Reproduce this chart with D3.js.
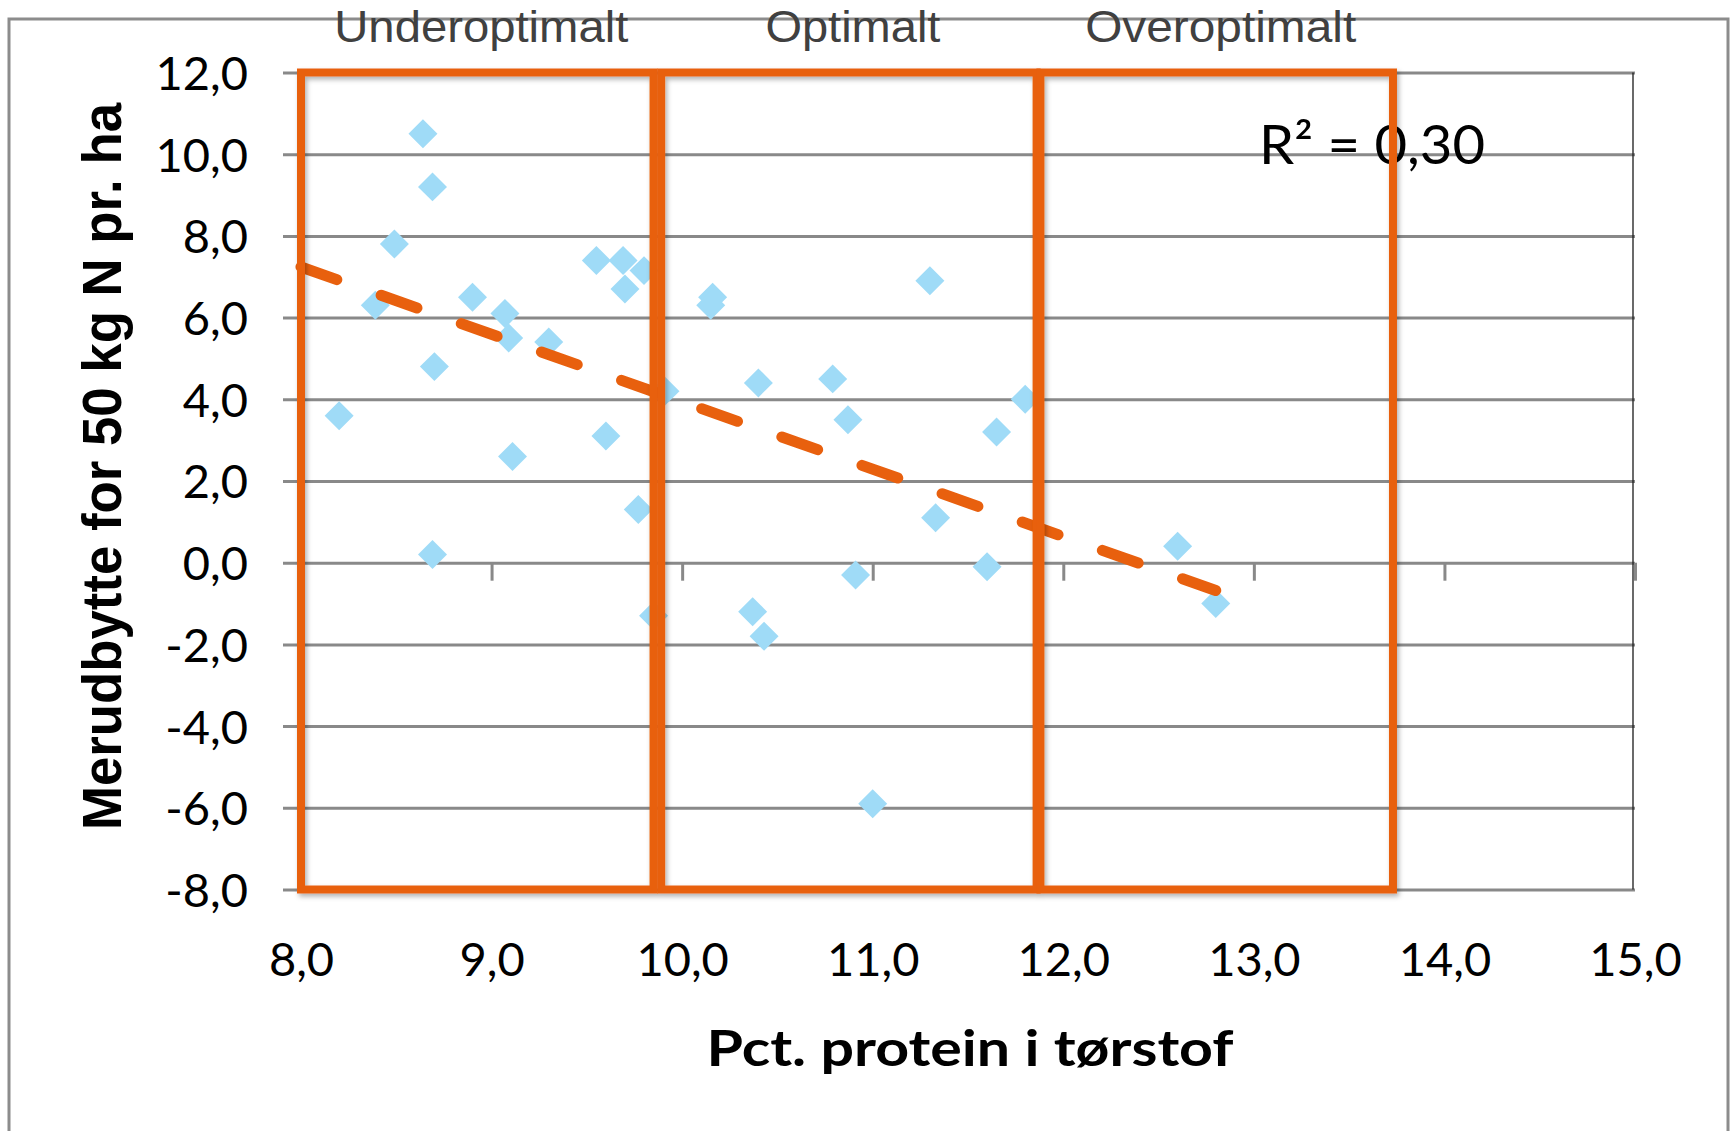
<!DOCTYPE html>
<html>
<head>
<meta charset="utf-8">
<script src="https://cdn.jsdelivr.net/npm/d3@7"></script>
<style>
  html, body { margin: 0; padding: 0; background: #ffffff; }
  svg { display: block; }
</style>
</head>
<body>
<svg id="chart" width="1730" height="1131"></svg>
<script>
// ---------- data ----------
const proteinPct = [8.64, 8.69, 8.49, 8.39, 8.90, 9.07, 9.09, 9.30, 8.70, 8.20, 9.60, 9.11,
                    9.55, 9.69, 9.70, 9.80, 8.69, 9.77, 9.85, 11.33, 10.91, 11.60, 10.37, 10.43,
                    11.00, 10.16, 10.15, 11.30, 9.91, 10.40, 10.79, 10.87, 11.80, 11.65, 12.60, 12.80];
const merudbytte = [10.5, 9.2, 7.8, 6.3, 6.5, 6.1, 5.5, 5.4, 4.8, 3.6, 3.1, 2.6,
                    7.4, 7.4, 6.7, 7.15, 0.2, 1.3, -1.3, 1.1, -0.3, -0.1, -1.2, -1.8,
                    -5.9, 6.5, 6.3, 6.9, 4.2, 4.4, 4.5, 3.5, 4.0, 3.2, 0.4, -1.0];

const trendX = [8.0, 12.8];
const trendY = [7.24, -0.68];
const r2Label = "R² = 0,30";

const zoneNames = ["Underoptimalt", "Optimalt", "Overoptimalt"];
const zoneStart = [8.0, 9.89, 11.88];
const zoneEnd   = [9.85, 11.86, 13.73];
const zoneTop = 12.0;
const zoneBottom = -8.0;

const xTickValues = [8, 9, 10, 11, 12, 13, 14, 15];
const yTickValues = [-8, -6, -4, -2, 0, 2, 4, 6, 8, 10, 12];

const xTitle = "Pct. protein i tørstof";
const yTitle = "Merudbytte for 50 kg N pr. ha";

// ---------- setup ----------
const svg = d3.select("#chart");
const locale = d3.formatLocale({decimal: ",", thousands: ".", grouping: [3], currency: ["", ""], minus: "-"});
const fmt = locale.format(".1f");

const x = d3.scaleLinear().domain([8, 15]).range([301, 1635]);
const y = d3.scaleLinear().domain([-8, 12]).range([889.5, 72.5]);

const ORANGE = "#E8600E";
const GRID = "#898989";

// drop shadow for shapes
const defs = svg.append("defs");
const f = defs.append("filter").attr("id", "shadow").attr("x", "-10%").attr("y", "-10%").attr("width", "120%").attr("height", "120%");
f.append("feDropShadow").attr("dx", 2).attr("dy", 3).attr("stdDeviation", 2.5)
  .attr("flood-color", "#000").attr("flood-opacity", 0.3);

// chart border
svg.append("rect")
  .attr("x", 9).attr("y", 19).attr("width", 1719).attr("height", 1200)
  .attr("fill", "none").attr("stroke", "#8c8c8c").attr("stroke-width", 3);

// ---------- y axis with gridlines ----------
const yAxis = d3.axisLeft(y)
  .tickValues(yTickValues)
  .tickSize(-(1635 - 283))
  .tickPadding(35)
  .tickFormat(fmt);
const gy = svg.append("g").attr("transform", "translate(283,0)").call(yAxis);
gy.select(".domain").remove();
gy.selectAll(".tick line").attr("stroke", GRID).attr("stroke-width", 3);
gy.selectAll(".tick text")
  .attr("font-family", "Lato, 'Open Sans', sans-serif")
  .attr("font-size", 47).attr("fill", "#000")
  .attr("dy", "0.36em");

// plot area right border
svg.append("line")
  .attr("x1", x(15) - 2).attr("x2", x(15) - 2)
  .attr("y1", y(12)).attr("y2", y(-8))
  .attr("stroke", "#1a1a1a").attr("stroke-width", 1.3);

// ---------- x axis tick marks at y = 0 ----------
const xAxisTicks = d3.axisBottom(x).tickValues(xTickValues).tickSize(18).tickFormat("");
const gx = svg.append("g").attr("transform", `translate(0,${y(0)})`).call(xAxisTicks);
gx.select(".domain").remove();
gx.selectAll(".tick line").attr("stroke", GRID).attr("stroke-width", 3);

// x tick labels at bottom
const xAxisLabels = d3.axisBottom(x).tickValues(xTickValues).tickSize(0).tickFormat(fmt);
const gxl = svg.append("g").attr("transform", `translate(0,${y(-8)})`).call(xAxisLabels);
gxl.select(".domain").remove();
gxl.selectAll(".tick text")
  .attr("font-family", "Lato, 'Open Sans', sans-serif")
  .attr("font-size", 47).attr("fill", "#000")
  .attr("y", 976 - y(-8)).attr("dy", 0);

// ---------- points ----------
const pts = proteinPct.map((v, i) => [v, merudbytte[i]]);
const diamond = d3.symbol().type(d3.symbolSquare).size(420);
svg.append("g").selectAll("path").data(pts).join("path")
  .attr("d", diamond)
  .attr("transform", d => `translate(${x(d[0])},${y(d[1])}) rotate(45)`)
  .attr("fill", "#9FDBF7");

// ---------- trend line ----------
const line = d3.line().x(d => x(d[0])).y(d => y(d[1]));
svg.append("path")
  .datum(trendX.map((v, i) => [v, trendY[i]]))
  .attr("d", line)
  .attr("fill", "none")
  .attr("stroke", ORANGE)
  .attr("stroke-width", 11)
  .attr("stroke-linecap", "round")
  .attr("stroke-dasharray", "38 47");

// R² label
svg.append("text")
  .attr("x", 1259).attr("y", 163.5)
  .attr("font-family", "Lato, 'Open Sans', sans-serif")
  .attr("font-size", 54).attr("fill", "#000")
  .attr("textLength", 226).attr("lengthAdjust", "spacingAndGlyphs")
  .text(r2Label);

// ---------- zone rectangles ----------
const zones = zoneNames.map((n, i) => ({name: n, x0: zoneStart[i], x1: zoneEnd[i]}));
svg.append("g").attr("filter", "url(#shadow)")
  .selectAll("rect").data(zones).join("rect")
  .attr("x", d => x(d.x0))
  .attr("y", y(zoneTop))
  .attr("width", d => x(d.x1) - x(d.x0))
  .attr("height", y(zoneBottom) - y(zoneTop))
  .attr("fill", "none")
  .attr("stroke", ORANGE)
  .attr("stroke-width", 8);

// zone labels
const zoneLabelWidths = [294, 175, 271];
svg.append("g").selectAll("text").data(zones).join("text")
  .attr("x", d => (x(d.x0) + x(d.x1)) / 2 + 4)
  .attr("y", 42)
  .attr("text-anchor", "middle")
  .attr("font-family", "'Liberation Sans', Arial, sans-serif")
  .attr("font-size", 45)
  .attr("textLength", (d, i) => zoneLabelWidths[i])
  .attr("lengthAdjust", "spacingAndGlyphs")
  .attr("fill", "#404040")
  .text(d => d.name);

// ---------- axis titles ----------
svg.append("text")
  .attr("x", 970).attr("y", 1066)
  .attr("text-anchor", "middle")
  .attr("font-family", "Lato, 'Open Sans', sans-serif")
  .attr("font-weight", 700)
  .attr("font-size", 50)
  .attr("textLength", 527).attr("lengthAdjust", "spacingAndGlyphs")
  .attr("fill", "#000")
  .text(xTitle);

svg.append("text")
  .attr("transform", "translate(121,466.5) rotate(-90)")
  .attr("text-anchor", "middle")
  .attr("font-family", "'Liberation Sans', Arial, sans-serif")
  .attr("font-weight", 700)
  .attr("font-size", 55)
  .attr("textLength", 727).attr("lengthAdjust", "spacingAndGlyphs")
  .attr("fill", "#000")
  .text(yTitle);
</script>
</body>
</html>
